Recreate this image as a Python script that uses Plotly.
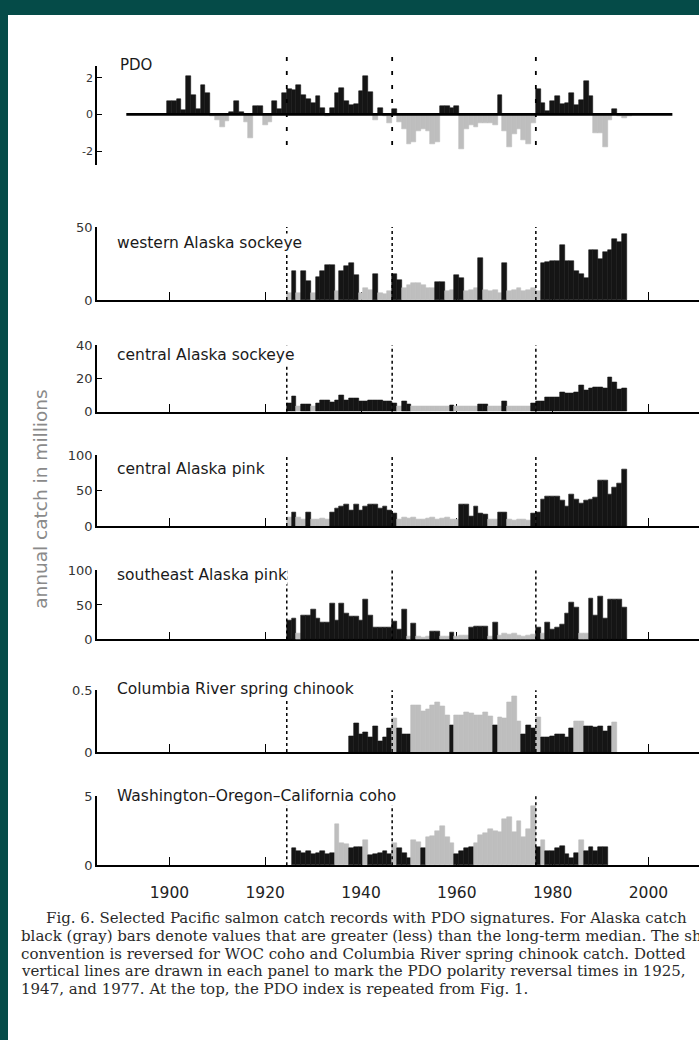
import plotly.graph_objects as go

W, H = 699, 1040

# ---------------- data ----------------
pdo_start = 1900
pdo_values = [
    0.7, 0.7, 0.85, 0.25, 2.1, 1.05, 0.3, 1.6, 1.15, -0.1,
    -0.3, -0.7, -0.35, 0.1, 0.7, 0.15, -0.4, -1.3, 0.45, 0.45,
    -0.6, -0.4, 0.7, 0.3, 1.15, 1.4, 1.3, 1.6, 1.05, 0.85,
    0.6, 1.0, 0.35, -0.1, 0.35, 1.15, 1.45, 0.75, 0.5, 0.55,
    1.25, 2.1, 1.2, -0.3, 0.35, -0.1, -0.5, 0.3, -0.4, -0.8,
    -1.6, -1.5, -0.9, -0.8, -0.9, -1.6, -1.5, 0.45, 0.45, 0.35,
    0.45, -1.9, -0.8, -0.6, -0.7, -0.5, -0.5, -0.5, -0.6, 1.05,
    -0.9, -1.8, -1.1, -0.8, -1.4, -1.6, -0.5, 1.35, 0.6, 0.2,
    0.7, 1.0, 0.55, 0.6, 1.15, 0.5, 0.8, 1.8, 1.0, -1.0,
    -1.0, -1.8, -0.3, 0.3, -0.1, -0.2, -0.1,
]

wak_start = 1925  # western Alaska sockeye
wak = [
    5, 20, 5, 20, 13, 5, 16, 20, 24, 24,
    6, 20, 23, 25, 17, 5, 8, 7, 18, 5,
    4, 6, 18, 14, 8, 10, 11.5, 11.8, 10, 8,
    8, 12.5, 12.5, 6, 7, 17, 15, 6, 7, 8,
    29, 7, 6, 7, 5, 25, 6, 7, 8, 6,
    7, 8, 6, 25, 26, 27, 27, 38, 27, 27,
    20, 18, 15, 34, 34, 28, 33, 34, 42, 40,
    45,
]

cas_start = 1925  # central Alaska sockeye
cas = [
    5, 9, 3, 4.5, 4.5, 3, 5, 7, 7, 5.5,
    7, 10, 7, 8, 8, 6, 6, 7, 7, 7,
    6, 6, 5, 3, 6, 4.5, 3.5, 3.5, 3, 3,
    3, 3.5, 3, 3, 3.8, 3, 3.5, 3.5, 3.5, 3.5,
    4.5, 4.5, 3.5, 3.5, 3, 6, 3.5, 3.5, 3, 3,
    3.5, 5, 6, 6, 8.5, 8.5, 8.5, 12, 11, 11,
    12, 16, 13, 14, 15, 15, 14, 21, 18, 13.5,
    14,
]

cap_start = 1925  # central Alaska pink
cap = [
    12, 20, 12, 10, 20, 10, 9, 11, 10, 20,
    25, 28, 30, 22, 30, 22, 28, 31, 31, 25,
    28, 22, 18, 10, 12, 11, 12, 10, 9, 11,
    12, 10, 11, 12, 10, 9, 31, 31, 14, 28,
    18, 17, 10, 9, 19, 19, 10, 8, 9, 10,
    8, 18, 20, 38, 42, 42, 42, 36, 28, 45,
    38, 32, 36, 38, 40, 64, 64, 45, 55, 60,
    80,
]

sap_start = 1925  # southeast Alaska pink
sap = [
    28, 30, 8, 35, 35, 43, 30, 24, 24, 52,
    27, 52, 37, 33, 33, 27, 58, 35, 18, 18,
    18, 18, 26, 15, 43, 5, 23, 5, 3, 4,
    12, 12, 5, 4, 10, 5, 6, 6, 18, 19,
    19, 19, 5, 24, 6, 8, 7, 9, 6, 5,
    6, 7, 18, 8, 24, 15, 18, 22, 38, 53,
    46, 8, 9, 60, 35, 62, 30, 58, 58, 58,
    46,
]

crc_start = 1938  # Columbia River spring chinook
crc = [
    0.13, 0.23, 0.14, 0.16, 0.12, 0.21, 0.09, 0.12, 0.19, 0.27,
    0.19, 0.14, 0.14, 0.38, 0.38, 0.33, 0.35, 0.38, 0.40, 0.37,
    0.30, 0.22, 0.30, 0.30, 0.32, 0.31, 0.30, 0.30, 0.32, 0.29,
    0.22, 0.28, 0.27, 0.40, 0.45, 0.25, 0.14, 0.22, 0.19, 0.28,
    0.12, 0.12, 0.13, 0.14, 0.14, 0.12, 0.19, 0.25, 0.25, 0.21,
    0.21, 0.20, 0.21, 0.17, 0.21, 0.24,
]

woc_start = 1926  # Washington-Oregon-California coho
woc = [
    1.2, 1.0, 0.9, 1.0, 0.8, 0.9, 1.0, 0.8, 0.9, 3.0,
    1.6, 1.5, 1.2, 1.3, 1.3, 1.8, 0.7, 0.8, 0.9, 1.0,
    0.8, 1.6, 1.2, 0.9, 0.5, 1.8, 1.7, 1.2, 2.0, 2.1,
    2.5, 2.8, 2.0, 1.6, 0.8, 1.0, 1.2, 1.3, 1.6, 2.2,
    2.3, 2.6, 2.5, 2.4, 3.3, 3.5, 2.4, 3.2, 2.0, 2.6,
    4.3, 1.3, 1.8, 1.0, 1.0, 1.2, 1.4, 0.8, 0.5, 0.9,
    1.8, 1.0, 1.3, 1.0, 1.3, 1.3,
]

panel_titles = ["western Alaska sockeye", "central Alaska sockeye", "central Alaska pink",
                "southeast Alaska pink", "Columbia River spring chinook",
                "Washington\u2013Oregon\u2013California coho"]
panel_series = [wak, cas, cap, sap, crc, woc]
panel_starts = [wak_start, cas_start, cap_start, sap_start, crc_start, woc_start]
panel_medians = [12.2, 3.7, 13, 9.5, 0.235, 1.45]
panel_reversed = [False, False, False, False, True, True]
panel_ytop = [50, 40, 100, 100, 0.5, 5]
panel_yticks = [[0, 50], [0, 20, 40], [0, 50, 100], [0, 50, 100], [0, 0.5], [0, 5]]
panel_yticktext = [["0", "50"], ["0", "20", "40"], ["0", "50", "100"], ["0", "50", "100"],
                   ["0", "0.5"], ["0", "5"]]

reversal_years = [1925, 1947, 1977]
xtick_years = [1900, 1920, 1940, 1960, 1980, 2000]
pdo_ticks = [-2, 0, 2]
pdo_ticktext = ["-2", "0", "2"]

caption_lines = [
    "Fig. 6. Selected Pacific salmon catch records with PDO signatures. For Alaska catch",
    "black (gray) bars denote values that are greater (less) than the long-term median. The shading",
    "convention is reversed for WOC coho and Columbia River spring chinook catch. Dotted",
    "vertical lines are drawn in each panel to mark the PDO polarity reversal times in 1925,",
    "1947, and 1977. At the top, the PDO index is repeated from Fig. 1.",
]

# ---------------- styling / geometry ----------------
BLACK = "#151515"
GRAY = "#bebebe"
TEAL = "#054b48"
SANS = "DejaVu Sans"
SERIF = "DejaVu Serif"


def fx(px):
    return px / W


def fy(py):
    return 1 - py / H


XR = [1884.88, 2010.56]
XDOM = [fx(97), 1.0]

PDO_TOP, PDO_BOT = 60, 160
PDO_RANGE = [-2.74, 2.63]
panel_px = [(223.3, 297.3), (343.3, 410.7), (455, 526.7), (571.7, 641.7), (693.3, 756), (800.7, 870.7)]
title_y = [239, 353, 469, 576, 692, 801]

fig = go.Figure()
layout = dict(
    width=W, height=H, margin=dict(l=0, r=0, t=0, b=0),
    paper_bgcolor=TEAL, plot_bgcolor="rgba(0,0,0,0)",
    showlegend=False, bargap=0,
)
shapes = [dict(type="rect", xref="paper", yref="paper", x0=fx(8), x1=1.02, y0=-0.02, y1=fy(8),
               fillcolor="white", line=dict(width=0), layer="below")]
annotations = []

# ---- PDO panel ----
pdo_years = list(range(pdo_start, pdo_start + len(pdo_values)))
pdo_colors = [BLACK if v > 0 else GRAY for v in pdo_values]
fig.add_trace(go.Bar(x=pdo_years, y=pdo_values, width=1, xaxis="x", yaxis="y",
                     marker=dict(color=pdo_colors, line=dict(color=pdo_colors, width=0.6)),
                     hoverinfo="skip"))
layout["xaxis"] = dict(domain=XDOM, range=XR, visible=False, anchor="y")
layout["yaxis"] = dict(domain=[fy(PDO_BOT), fy(PDO_TOP)], range=PDO_RANGE, anchor="x",
                       showline=True, linecolor="black", linewidth=1.5, showgrid=False, zeroline=False,
                       ticks="inside", ticklen=5, tickwidth=1.3, tickcolor="black",
                       tickvals=pdo_ticks, ticktext=pdo_ticktext,
                       tickfont=dict(family=SANS, size=11, color="#333"))
shapes.append(dict(type="line", xref="x", yref="y", x0=1891, x1=2005, y0=0, y1=0,
                   line=dict(color="black", width=2.6), layer="above"))
for yr in reversal_years:
    shapes.append(dict(type="line", xref="x", yref="paper", x0=yr - 0.5, x1=yr - 0.5,
                       y0=fy(140), y1=fy(48), line=dict(color="black", width=1.8, dash="4px,10px"),
                       layer="above"))
annotations.append(dict(text="PDO", xref="paper", yref="paper", x=fx(118), y=fy(59),
                        xanchor="left", yanchor="middle", showarrow=False,
                        font=dict(family=SANS, size=15, color="#1a1a1a")))

# ---- catch panels ----
for i in range(6):
    n = i + 2
    xa, ya = f"x{n}", f"y{n}"
    vals = panel_series[i]
    yrs = list(range(panel_starts[i], panel_starts[i] + len(vals)))
    med = panel_medians[i]
    if panel_reversed[i]:
        cols = [BLACK if v < med else GRAY for v in vals]
    else:
        cols = [BLACK if v > med else GRAY for v in vals]
    fig.add_trace(go.Bar(x=yrs, y=vals, width=1, xaxis=xa, yaxis=ya,
                         marker=dict(color=cols, line=dict(color=cols, width=0.6)),
                         hoverinfo="skip"))
    top, bot = panel_px[i]
    last = (i == 5)
    layout[f"xaxis{n}"] = dict(domain=XDOM, range=XR, anchor=ya, showline=True, linecolor="black",
                               linewidth=1.5, showgrid=False, zeroline=False, ticks="inside",
                               ticklen=8, tickwidth=1.3, tickcolor="black", tickvals=xtick_years,
                               ticktext=[str(t) for t in xtick_years], showticklabels=last,
                               tickfont=dict(family=SANS, size=15.5, color="#222"),
                               ticklabelstandoff=13, layer="below traces")
    layout[f"yaxis{n}"] = dict(domain=[fy(bot), fy(top)], range=[0, panel_ytop[i]], anchor=xa,
                               showline=True, linecolor="black", linewidth=1.5, showgrid=False,
                               zeroline=False, ticks="inside", ticklen=5, tickwidth=1.3,
                               tickcolor="black", tickvals=panel_yticks[i], ticktext=panel_yticktext[i],
                               tickfont=dict(family=SANS, size=13, color="#333"))
    for yr in reversal_years:
        shapes.append(dict(type="line", xref=xa, yref="paper", x0=yr - 0.5, x1=yr - 0.5,
                           y0=fy(bot), y1=fy(top), line=dict(color="black", width=1.5, dash="dot"),
                           layer="above"))
    annotations.append(dict(text=panel_titles[i], xref="paper", yref="paper", x=fx(116), y=fy(title_y[i]),
                            xanchor="left", yanchor="middle", showarrow=False, bgcolor="white",
                            borderpad=0, font=dict(family=SANS, size=15.5, color="#1a1a1a")))

# y-axis title
annotations.append(dict(text="annual catch in millions", xref="paper", yref="paper", x=fx(41), y=fy(500),
                        xanchor="center", yanchor="middle", textangle=-90, showarrow=False,
                        font=dict(family=SANS, size=18.5, color="#8a8a8a")))

# caption
cap_y = [924, 942.5, 960.5, 978.5, 996.5]
for k, line in enumerate(caption_lines):
    annotations.append(dict(text=line, xref="paper", yref="paper", x=fx(44 if k == 0 else 19),
                            y=fy(cap_y[k]), xanchor="left", yanchor="middle", showarrow=False,
                            font=dict(family=SERIF, size=15, color="#2a2a2a")))

layout["shapes"] = shapes
layout["annotations"] = annotations
fig.update_layout(**layout)
fig.write_html("out.html")
